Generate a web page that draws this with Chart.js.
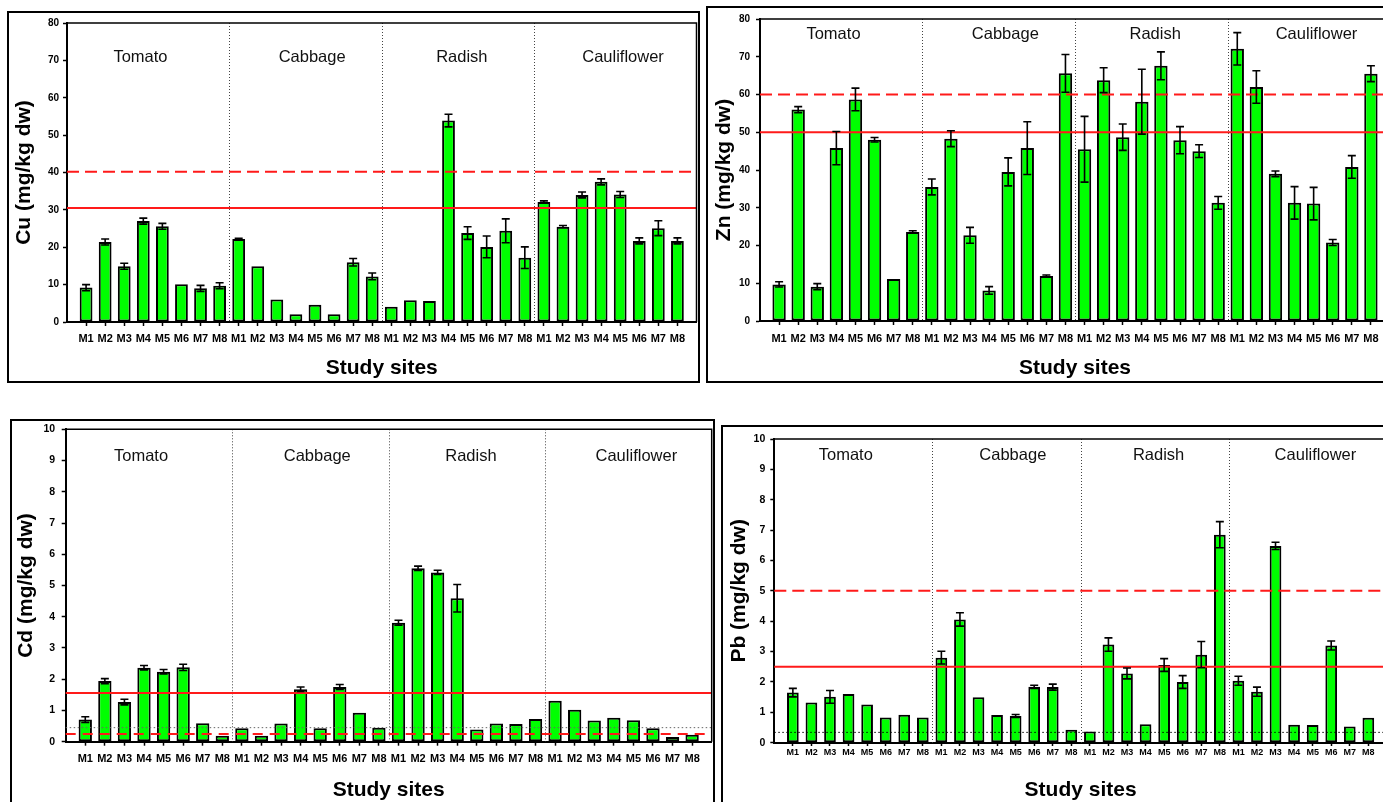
<!DOCTYPE html>
<html>
<head>
<meta charset="utf-8">
<script src="https://cdn.jsdelivr.net/npm/chart.js@4.4.1/dist/chart.umd.min.js"></script>
<style>
  html, body { margin: 0; padding: 0; background: #fff; width: 1383px; height: 802px; overflow: hidden; position: relative; }
  .panel { position: absolute; border: 2px solid #000; box-sizing: border-box; background: #fff; }
  .panel canvas { display: block; }
</style>
</head>
<body>
<div class="panel" style="left:7px;top:11px;width:693px;height:372px"><canvas id="cu-chart"></canvas></div>
<div class="panel" style="left:706px;top:6px;width:692px;height:377px"><canvas id="zn-chart"></canvas></div>
<div class="panel" style="left:10px;top:419px;width:705px;height:386px"><canvas id="cd-chart"></canvas></div>
<div class="panel" style="left:721px;top:425px;width:672px;height:380px"><canvas id="pb-chart"></canvas></div>
<script>
const FONT = '"Liberation Sans", Arial, sans-serif';

const sites = ["M1", "M2", "M3", "M4", "M5", "M6", "M7", "M8"];
const crops = ["Tomato", "Cabbage", "Radish", "Cauliflower"];

// means / error bars, tomato - cabbage - radish - cauliflower, M1..M8 each
const cuMeans = [9.2, 21.4, 14.9, 27.0, 25.6, 10.1, 9.0, 9.7,
    22.2, 14.9, 6.0, 2.1, 4.6, 2.1, 16.0, 12.2,
    4.1, 5.8, 5.6, 53.9, 23.8, 20.1, 24.4, 17.2,
    32.1, 25.5, 34.0, 37.5, 34.1, 21.7, 25.1, 21.7];
const cuErrors = [0.8, 0.8, 0.8, 0.8, 0.8, 0, 0.8, 0.8,
    0.2, 0, 0, 0, 0, 0, 1.0, 0.9,
    0, 0, 0, 1.7, 1.7, 2.9, 3.2, 2.9,
    0.3, 0.3, 0.8, 0.8, 0.8, 0.8, 2.0, 0.8];
const cuLimits = [30.5, 40.2];

const znMeans = [9.7, 56.0, 9.1, 45.8, 58.7, 48.0, 11.1, 23.6,
    35.5, 48.3, 22.7, 8.1, 39.5, 45.8, 11.9, 65.6,
    45.5, 63.8, 48.7, 58.1, 67.6, 47.9, 45.0, 31.3,
    72.1, 62.0, 39.0, 31.3, 31.1, 20.8, 40.8, 65.5];
const znErrors = [0.7, 0.8, 0.8, 4.4, 3.0, 0.6, 0, 0.3,
    2.1, 2.1, 2.1, 1.0, 3.7, 7.0, 0.3, 5.0,
    8.7, 3.3, 3.5, 8.6, 3.7, 3.6, 1.7, 1.7,
    4.3, 4.3, 0.75, 4.3, 4.3, 0.8, 3.0, 2.1];
const znLimits = [50, 60];

const cdMeans = [0.71, 1.94, 1.27, 2.37, 2.24, 2.38, 0.59, 0.19,
    0.43, 0.19, 0.58, 1.68, 0.43, 1.75, 0.93, 0.45,
    3.81, 5.55, 5.42, 4.59, 0.39, 0.58, 0.57, 0.73,
    1.31, 1.02, 0.68, 0.77, 0.69, 0.43, 0.15, 0.22];
const cdErrors = [0.09, 0.08, 0.09, 0.07, 0.07, 0.1, 0, 0,
    0, 0, 0, 0.07, 0, 0.08, 0, 0,
    0.08, 0.07, 0.07, 0.44, 0, 0, 0, 0,
    0, 0, 0, 0, 0, 0, 0, 0];
const cdLimits = [1.56, 0.25, 0.45];

const pbMeans = [1.65, 1.32, 1.51, 1.6, 1.26, 0.83, 0.92, 0.83,
    2.8, 4.06, 1.5, 0.91, 0.88, 1.84, 1.83, 0.43,
    0.37, 3.23, 2.28, 0.61, 2.56, 2.0, 2.9, 6.85,
    2.04, 1.68, 6.48, 0.59, 0.58, 3.2, 0.53, 0.82];
const pbErrors = [0.14, 0, 0.21, 0, 0, 0, 0, 0,
    0.21, 0.22, 0, 0, 0.05, 0.05, 0.1, 0,
    0, 0.22, 0.18, 0, 0.21, 0.21, 0.43, 0.43,
    0.15, 0.15, 0.12, 0, 0, 0.15, 0, 0];
const pbLimits = [2.5, 5, 0.34];

// blank slot at each end so bars sit one step in from the frame
const siteLabels = ["", ...crops.flatMap(() => sites), ""];
// where the crop names sit, in site steps from the first bar
const cropLabelAt = [2.85, 11.85, 19.7, 28.15];

const lineStyles = {
    solid: { borderColor: "#ff1a1a", borderWidth: 2, borderDash: [] },
    dashed: { borderColor: "#ff1a1a", borderWidth: 2, borderDash: [12, 6] },
    shortDash: { borderColor: "#ff1a1a", borderWidth: 2, borderDash: [10, 7] },
    dotGray: { borderColor: "#666", borderWidth: 1, borderDash: [1.5, 2.5] },
    dotBlack: { borderColor: "#000", borderWidth: 1, borderDash: [1.5, 2.5] },
};

function padded(values) {
    return [null, ...values, null];
}

function makeDecor(cfg) {
    return {
        id: "panelDecor",
        beforeDatasetsDraw(chart) {
            const { ctx, chartArea: a } = chart;
            const x = chart.scales.x;
            ctx.save();
            ctx.strokeStyle = "#444";
            ctx.lineWidth = 1;
            ctx.setLineDash([1, 2]);
            for (let g = 1; g < crops.length; g++) {
                const px = Math.round(x.getPixelForValue(g * sites.length + 0.5)) + 0.5;
                ctx.beginPath();
                ctx.moveTo(px, a.top);
                ctx.lineTo(px, a.bottom);
                ctx.stroke();
            }
            ctx.restore();
        },
        afterDatasetsDraw(chart) {
            const { ctx } = chart;
            const { x, y } = chart.scales;
            ctx.save();
            ctx.strokeStyle = "#000";
            ctx.lineWidth = 1.6;
            const cap = 4;
            cfg.errors.forEach((e, i) => {
                if (!e) return;
                const v = cfg.means[i];
                const px = x.getPixelForValue(i + 1);
                const top = y.getPixelForValue(v + e);
                const bot = y.getPixelForValue(v - e);
                ctx.beginPath();
                ctx.moveTo(px, top);
                ctx.lineTo(px, bot);
                ctx.moveTo(px - cap, top);
                ctx.lineTo(px + cap, top);
                ctx.moveTo(px - cap, bot);
                ctx.lineTo(px + cap, bot);
                ctx.stroke();
            });
            ctx.restore();
        },
        afterDraw(chart) {
            const { ctx, chartArea: a } = chart;
            const x = chart.scales.x;
            ctx.save();
            // top and right frame of the plot
            ctx.strokeStyle = "#000";
            ctx.lineWidth = 1.5;
            ctx.beginPath();
            ctx.moveTo(a.left, a.top);
            ctx.lineTo(a.right, a.top);
            ctx.lineTo(a.right, a.bottom);
            ctx.stroke();
            // crop names
            ctx.fillStyle = "#111";
            ctx.font = "16.5px " + FONT;
            ctx.textAlign = "center";
            ctx.textBaseline = "middle";
            crops.forEach((name, g) => {
                ctx.fillText(name, x.getPixelForValue(cropLabelAt[g] + 1), a.top + cfg.labelDy);
            });
            ctx.restore();
        },
    };
}

function buildPanel(canvasId, cfg) {
    const datasets = [
        {
            type: "bar",
            data: padded(cfg.means),
            backgroundColor: "#00ff00",
            borderColor: "#000",
            borderWidth: 2,
            borderSkipped: false,
            barPercentage: cfg.barPct,
            categoryPercentage: 1,
            order: 2,
        },
    ];
    cfg.limits.forEach((value, k) => {
        datasets.push({
            type: "line",
            data: siteLabels.map(() => value),
            pointRadius: 0,
            fill: false,
            tension: 0,
            order: 1,
            ...lineStyles[cfg.limitStyles[k]],
        });
    });

    return new Chart(document.getElementById(canvasId), {
        type: "bar",
        data: { labels: siteLabels, datasets },
        options: {
            responsive: true,
            maintainAspectRatio: false,
            animation: false,
            layout: { padding: { top: cfg.padTop, right: cfg.padRight, left: 0, bottom: 0 } },
            plugins: { legend: { display: false }, tooltip: { enabled: false } },
            scales: {
                x: {
                    offset: false,
                    grid: {
                        offset: false,
                        drawOnChartArea: false,
                        tickLength: cfg.xTickLen,
                        tickWidth: 1.5,
                        tickColor: (ctx) =>
                            ctx.index === 0 || ctx.index === siteLabels.length - 1 ? "rgba(0,0,0,0)" : "#000",
                    },
                    border: { color: "#000", width: 2 },
                    ticks: {
                        autoSkip: false,
                        maxRotation: 0,
                        minRotation: 0,
                        padding: cfg.xTickPad,
                        color: "#000",
                        font: { family: FONT, size: cfg.xTickSize, weight: "bold" },
                    },
                    title: {
                        display: true,
                        text: "Study sites",
                        color: "#000",
                        padding: { top: 0, bottom: 0 },
                        font: { family: FONT, size: 21, weight: "bold" },
                    },
                    afterFit: (s) => {
                        s.height = cfg.xHeight;
                        // layout padding already places the frame
                        s.paddingLeft = 0;
                        s.paddingRight = 0;
                    },
                },
                y: {
                    min: 0,
                    max: cfg.yMax,
                    grid: { drawOnChartArea: false, tickLength: 4, tickWidth: 1.5, tickColor: "#000" },
                    border: { color: "#000", width: 2 },
                    ticks: {
                        stepSize: cfg.yStep,
                        padding: cfg.yTickPad,
                        color: "#000",
                        font: { family: FONT, size: cfg.yTickSize, weight: "bold" },
                    },
                    title: {
                        display: true,
                        text: cfg.yTitle,
                        color: "#000",
                        padding: { top: cfg.yTitlePad, bottom: 0 },
                        font: { family: FONT, size: 21, weight: "bold" },
                    },
                    afterFit: (s) => {
                        s.width = cfg.yWidth;
                        s.paddingTop = 0;
                        s.paddingBottom = 0;
                    },
                },
            },
        },
        plugins: [makeDecor(cfg)],
    });
}

buildPanel("cu-chart", {
    means: cuMeans, errors: cuErrors, limits: cuLimits, limitStyles: ["solid", "dashed"],
    yTitle: "Cu (mg/kg dw)", yMax: 80, yStep: 10,
    yWidth: 58, xHeight: 59, padTop: 10, padRight: 1.5,
    yTitlePad: 2.8, yTickPad: 4, yTickSize: 10,
    xTickLen: 4, xTickPad: 6, xTickSize: 11,
    barPct: 0.67, labelDy: 34,
});

buildPanel("zn-chart", {
    means: znMeans, errors: znErrors, limits: znLimits, limitStyles: ["solid", "dashed"],
    yTitle: "Zn (mg/kg dw)", yMax: 80, yStep: 10,
    yWidth: 52, xHeight: 60, padTop: 11, padRight: 6,
    yTitlePad: 3.8, yTickPad: 6, yTickSize: 10,
    xTickLen: 4, xTickPad: 7.5, xTickSize: 11,
    barPct: 0.7, labelDy: 15,
});

buildPanel("cd-chart", {
    means: cdMeans, errors: cdErrors, limits: cdLimits, limitStyles: ["solid", "shortDash", "dotGray"],
    yTitle: "Cd (mg/kg dw)", yMax: 10, yStep: 1,
    yWidth: 53.7, xHeight: 61.3, padTop: 8.3, padRight: 1.3,
    yTitlePad: 2.1, yTickPad: 6.5, yTickSize: 10.5,
    xTickLen: 4, xTickPad: 7, xTickSize: 11,
    barPct: 0.68, labelDy: 26.7,
});

buildPanel("pb-chart", {
    means: pbMeans, errors: pbErrors, limits: pbLimits, limitStyles: ["solid", "dashed", "dotBlack"],
    yTitle: "Pb (mg/kg dw)", yMax: 10, yStep: 1,
    yWidth: 51.3, xHeight: 60.3, padTop: 12, padRight: 4.1,
    yTitlePad: 3.8, yTickPad: 5, yTickSize: 10.5,
    xTickLen: 3.3, xTickPad: 0.8, xTickSize: 9,
    barPct: 0.63, labelDy: 16,
});
</script>
</body>
</html>
